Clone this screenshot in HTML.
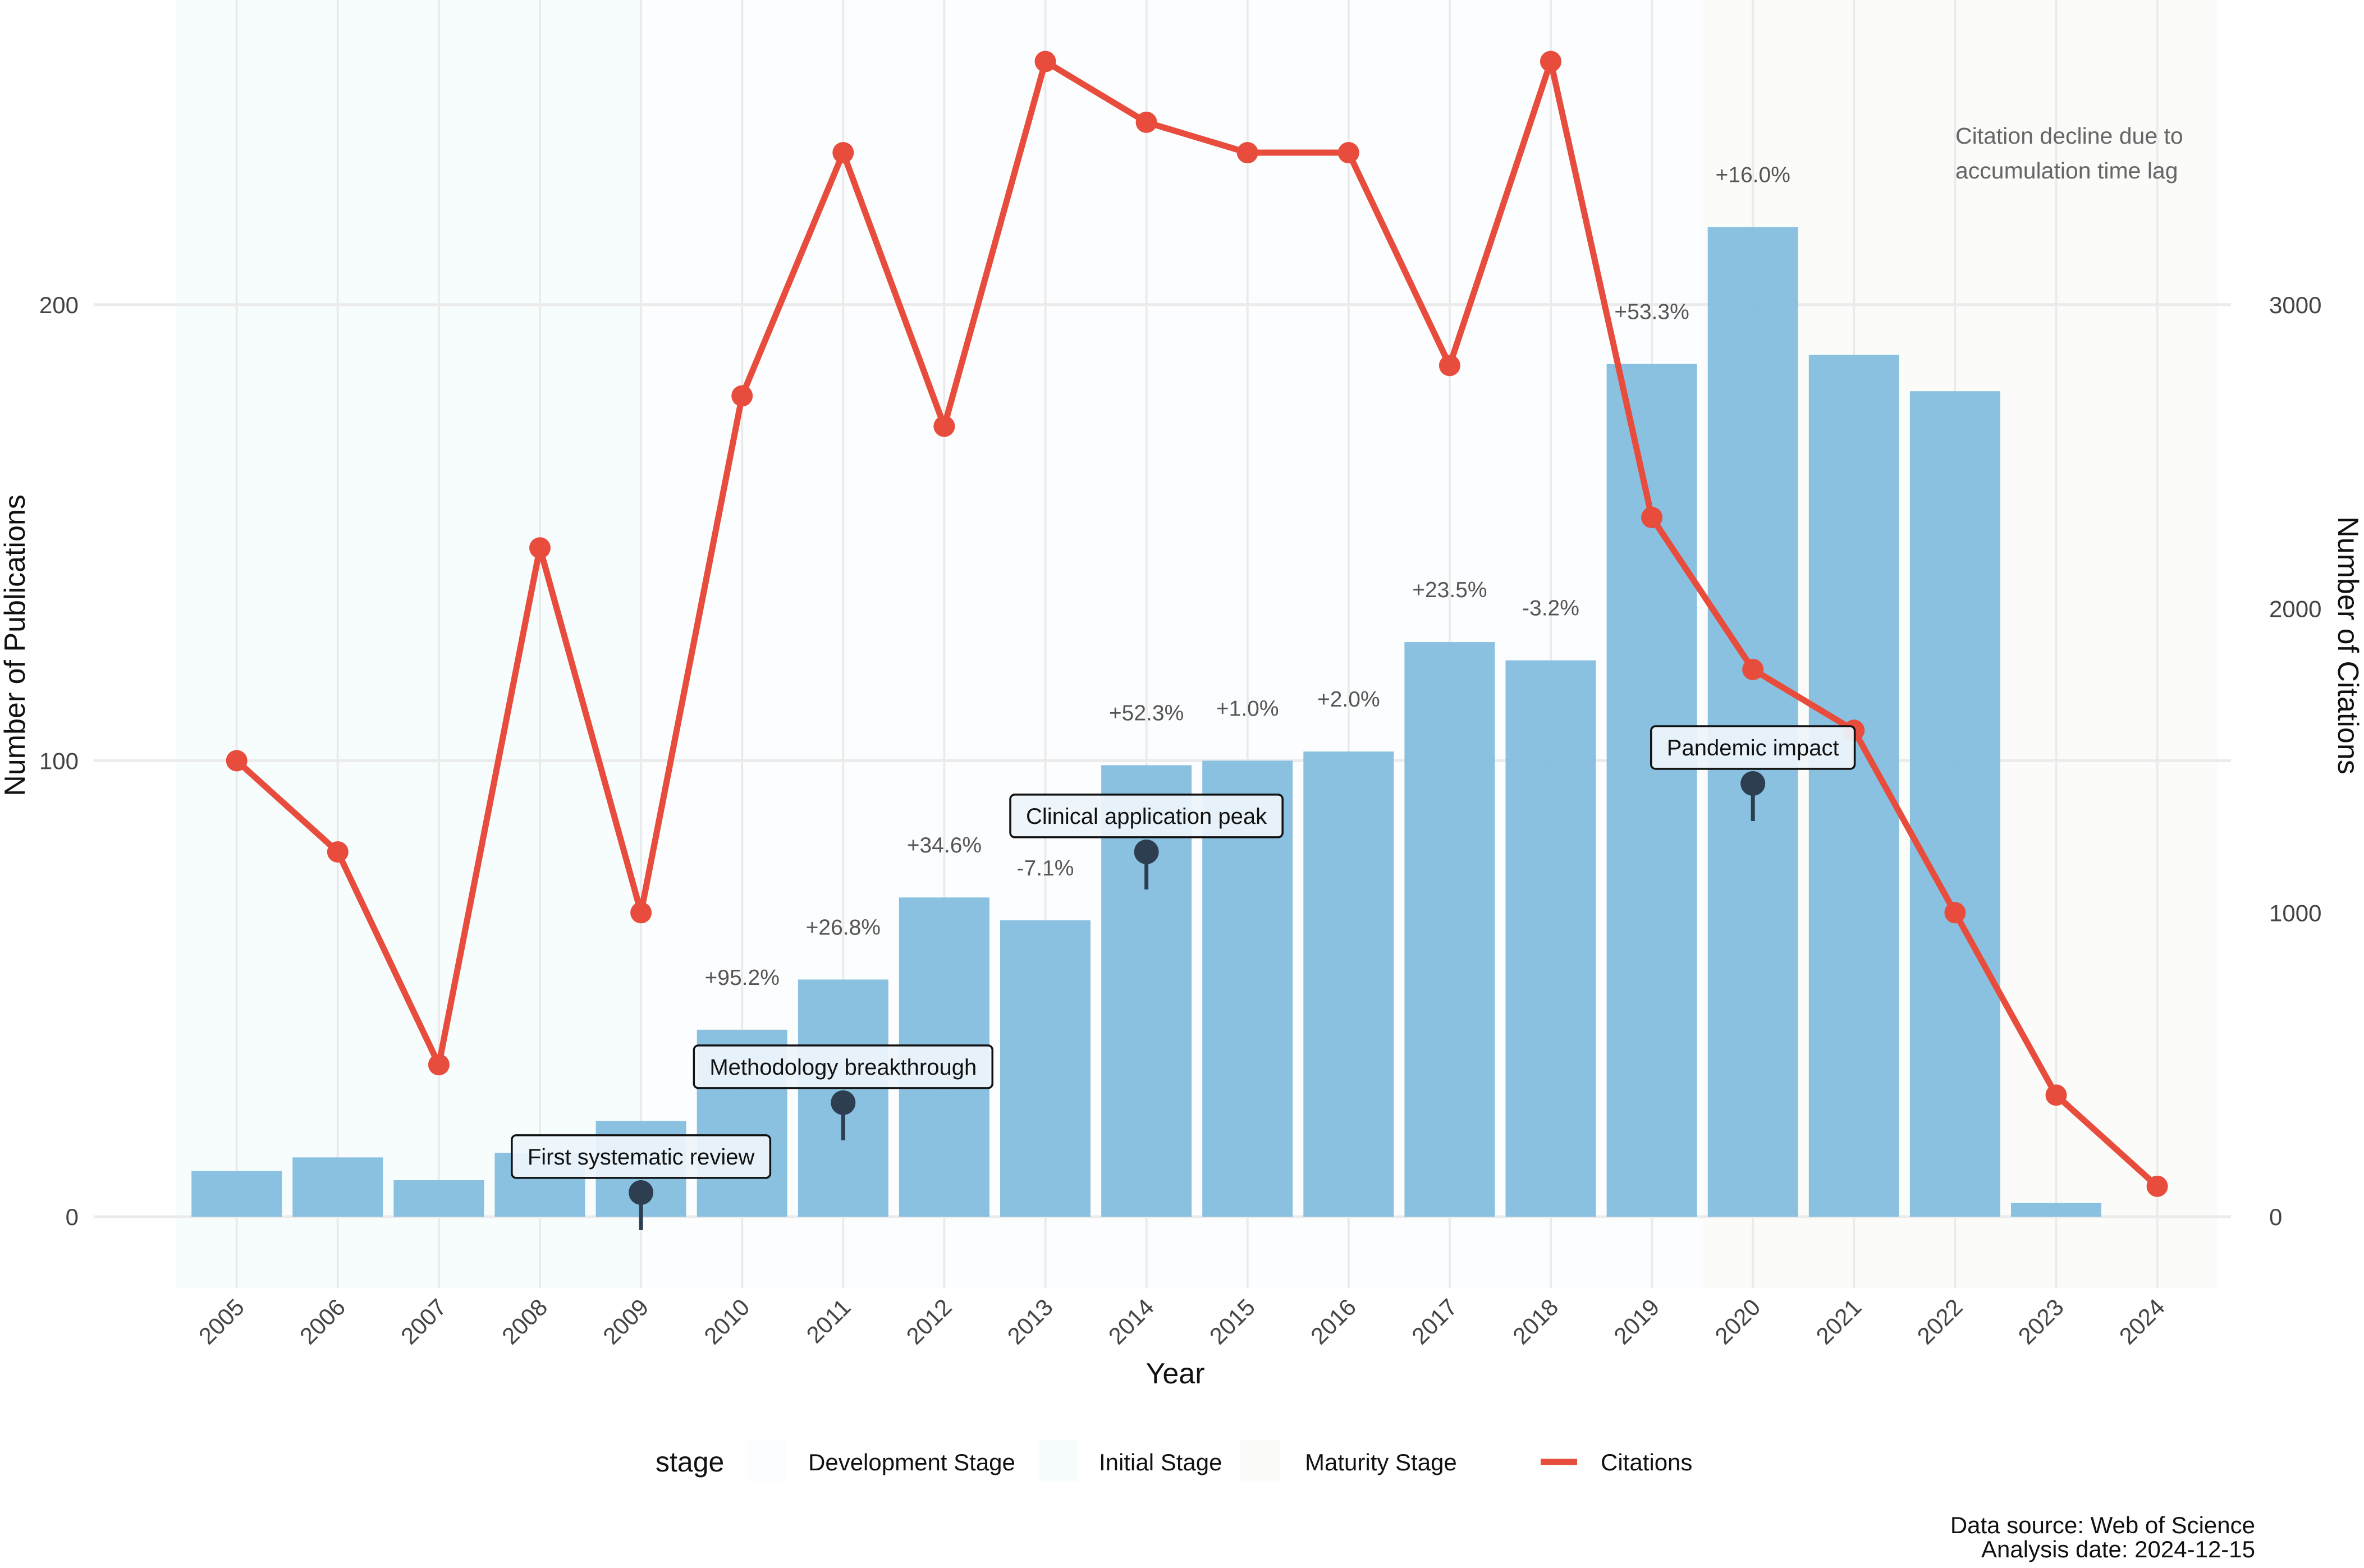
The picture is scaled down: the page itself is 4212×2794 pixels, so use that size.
<!DOCTYPE html>
<html><head><meta charset="utf-8"><style>
html,body{margin:0;padding:0;background:#fff;}
svg{display:block;font-family:"Liberation Sans",sans-serif;}
</style></head><body>
<svg id="chart" width="4212" height="2794" viewBox="0 0 4212 2794" xmlns="http://www.w3.org/2000/svg">
<g id="bg"></g>
<g id="grid"></g>
<g id="bars"></g>
<g id="pct"></g>
<g id="line"></g>
<g id="ann"></g>
<g id="axes"></g>
<text x="3484" y="256" font-size="41" fill="#666">Citation decline due to</text>
<text x="3484" y="318" font-size="41" fill="#666">accumulation time lag</text>
<text x="2094" y="2465" font-size="52" text-anchor="middle" fill="#111">Year</text>
<text transform="translate(44,1150) rotate(-90)" font-size="52" text-anchor="middle" fill="#111">Number of Publications</text>
<text transform="translate(4166,1150) rotate(90)" font-size="52" text-anchor="middle" fill="#111">Number of Citations</text>
<g>
<text x="1168" y="2622" font-size="50" fill="#111">stage</text>
<rect x="1330" y="2565" width="70" height="75" fill="#fcfdfe"/>
<text x="1440" y="2620" font-size="42" fill="#111">Development Stage</text>
<rect x="1850" y="2565" width="70" height="75" fill="#f7fcfd"/>
<text x="1958" y="2620" font-size="42" fill="#111">Initial Stage</text>
<rect x="2210" y="2565" width="70" height="75" fill="#fbfcf9"/>
<text x="2325" y="2620" font-size="42" fill="#111">Maturity Stage</text>
<line x1="2745" y1="2605" x2="2810" y2="2605" stroke="#e74c3c" stroke-width="11"/>
<text x="2852" y="2620" font-size="42" fill="#111">Citations</text>
</g>
<text x="4018" y="2732" font-size="42" text-anchor="end" fill="#111">Data source: Web of Science</text>
<text x="4018" y="2775" font-size="42" text-anchor="end" fill="#111">Analysis date: 2024-12-15</text>
</svg>
<script>
const years=[2005,2006,2007,2008,2009,2010,2011,2012,2013,2014,2015,2016,2017,2018,2019,2020,2021,2022,2023,2024];
const publications=[10,13,8,14,21,41,52,70,65,99,100,102,126,122,187,217,189,181,3,0];
const citations=[1500,1200,500,2200,1000,2700,3500,2600,3800,3600,3500,3500,2800,3800,2300,1800,1600,1000,400,100];
const growthLabels=["","","","","","+95.2%","+26.8%","+34.6%","-7.1%","+52.3%","+1.0%","+2.0%","+23.5%","-3.2%","+53.3%","+16.0%","","","",""];
const leftTicks=[0,100,200];
const rightTicks=[0,1000,2000,3000];
const annYears=[2009,2011,2014,2020];
const annValues=[5.3,25,80,95];
const annTexts=["First systematic review","Methodology breakthrough","Clinical application peak","Pandemic impact"];
const stageNames=["Initial Stage","Development Stage","Maturity Stage"];
const stageStart=[2004.4,2009,2019.5];
const stageEnd=[2009,2019.5,2024.6];
const stageColors=["#f7fcfd","#fcfdfe","#fbfcf9"];

const NS="http://www.w3.org/2000/svg";
const x=y=>421.7+(y-2005)*180.1;
const yL=v=>2168-v*8.126;
const yR=v=>2168-v*0.5417;
function mk(p,t,a){const e=document.createElementNS(NS,t);for(const k in a)e.setAttribute(k,a[k]);p.appendChild(e);return e;}
const bg=document.getElementById('bg'),grid=document.getElementById('grid'),bars=document.getElementById('bars'),pct=document.getElementById('pct'),line=document.getElementById('line'),ann=document.getElementById('ann'),axes=document.getElementById('axes');

stageNames.forEach((n,i)=>{const r=mk(bg,'rect',{x:x(stageStart[i]),y:0,width:x(stageEnd[i])-x(stageStart[i]),height:2295,fill:stageColors[i]});

});

years.forEach(yr=>{const l=mk(grid,'line',{x1:x(yr),y1:0,x2:x(yr),y2:2295,stroke:'#ebebeb','stroke-width':4});

});
leftTicks.forEach(v=>{const l=mk(grid,'line',{x1:167,y1:yL(v),x2:3975,y2:yL(v),stroke:'#ebebeb','stroke-width':5});


const t=mk(axes,'text',{x:140,y:yL(v)+15,'font-size':42,'text-anchor':'end',fill:'#444'});t.textContent=v;

});
rightTicks.forEach(v=>{const t=mk(axes,'text',{x:4043,y:yR(v)+15,'font-size':42,fill:'#444'});t.textContent=v;

});
years.forEach(yr=>{const t=mk(axes,'text',{transform:`translate(${x(yr)+16},2332) rotate(-45)`,'font-size':42,'text-anchor':'end',fill:'#444'});t.textContent=yr;

});

years.forEach((yr,i)=>{const v=publications[i];
const b=mk(bars,'rect',{x:x(yr)-80.5,y:yL(v),width:161,height:yL(0)-yL(v),fill:'#84bede','fill-opacity':0.95});


if(growthLabels[i]){const t=mk(pct,'text',{x:x(yr),y:yL(v)-80,'font-size':39,'text-anchor':'middle',fill:'#555'});t.textContent=growthLabels[i];

}});

const pts=years.map((yr,i)=>x(yr)+','+yR(citations[i])).join(' ');
const pl=mk(line,'polyline',{points:pts,fill:'none',stroke:'#e74c3c','stroke-width':11,'stroke-linejoin':'round'});


years.forEach((yr,i)=>{const c=mk(line,'circle',{cx:x(yr),cy:yR(citations[i]),r:19,fill:'#e74c3c'});

});

annYears.forEach((yr,i)=>{const cx=x(yr),cy=yL(annValues[i]);
const s=mk(ann,'line',{x1:cx,y1:cy,x2:cx,y2:cy+67,stroke:'#2c3e50','stroke-width':7});


const d=mk(ann,'circle',{cx:cx,cy:cy,r:22,fill:'#2c3e50'});


const r=mk(ann,'rect',{x:cx,y:cy-102,width:10,height:76,rx:8,fill:'#eef5fb','fill-opacity':0.92,stroke:'#111','stroke-width':3.5});


const t=mk(ann,'text',{x:cx,y:cy-50,'font-size':40,'text-anchor':'middle',fill:'#111'});t.textContent=annTexts[i];


const w=t.getComputedTextLength()+56;
r.setAttribute('x',cx-w/2);r.setAttribute('width',w);});
</script>
</body></html>
